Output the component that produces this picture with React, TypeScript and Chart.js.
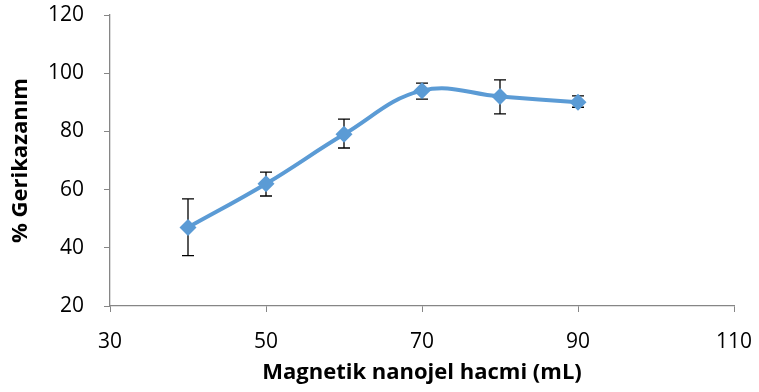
import { useEffect, useRef } from "react";
import { Chart, registerables } from "chart.js";

Chart.register(...registerables);

const volumes = [40, 50, 60, 70, 80, 90];
const recovery = [47, 62, 79, 94, 92, 90];
const errLow = [37.3, 57.8, 74.3, 91.1, 86, 88.3];
const errHigh = [56.8, 66, 84.2, 96.6, 97.7, 92.2];
const xTitle = "Magnetik nanojel hacmi (mL)";
const yTitle = "% Gerikazanım";

const FONT = "'Open Sans', 'DejaVu Sans', sans-serif";
const AXIS = "#868686";

const errorBars = {
  id: "errorBars",
  beforeDatasetsDraw(chart: any) {
    const { ctx, scales } = chart;
    const xs = scales.x;
    const ys = scales.y;
    ctx.save();
    ctx.strokeStyle = "#000";
    ctx.lineWidth = 1.3;
    volumes.forEach((v, i) => {
      const px = xs.getPixelForValue(v);
      const top = ys.getPixelForValue(errHigh[i]);
      const bot = ys.getPixelForValue(errLow[i]);
      ctx.beginPath();
      ctx.moveTo(px, top);
      ctx.lineTo(px, bot);
      ctx.moveTo(px - 6, top);
      ctx.lineTo(px + 6, top);
      ctx.moveTo(px - 6, bot);
      ctx.lineTo(px + 6, bot);
      ctx.stroke();
    });
    ctx.restore();
  },
};

const zeroPad = (s: any) => {
  s.paddingTop = 0;
  s.paddingBottom = 0;
  s.paddingLeft = 0;
  s.paddingRight = 0;
};

export default function App() {
  const ref = useRef<HTMLCanvasElement>(null);
  useEffect(() => {
    document.body.style.margin = "0";
    const chart = new Chart(ref.current as HTMLCanvasElement, {
      type: "line",
      data: {
        datasets: [
          {
            data: volumes.map((v, i) => ({ x: v, y: recovery[i] })),
            borderColor: "#5B9BD5",
            backgroundColor: "#5B9BD5",
            borderWidth: 4,
            tension: 0.4,
            pointStyle: "rectRot",
            pointRadius: 8.5,
            pointBorderWidth: 0,
            pointBackgroundColor: "#5B9BD5",
          },
        ],
      },
      options: {
        responsive: false,
        animation: false,
        layout: { padding: { top: 15, right: 25, left: 0, bottom: 0 } },
        plugins: { legend: { display: false }, tooltip: { enabled: false } },
        scales: {
          x: {
            type: "linear",
            min: 30,
            max: 110,
            afterFit: (s: any) => {
              s.height = 86;
              zeroPad(s);
            },
            ticks: {
              stepSize: 20,
              color: "#000",
              padding: 17,
              font: { family: FONT, size: 21 },
            },
            grid: { drawOnChartArea: false, tickLength: 6, color: AXIS },
            border: { color: AXIS, width: 1.3 },
            title: {
              display: true,
              text: xTitle,
              color: "#000",
              font: { family: FONT, size: 22, weight: "bold" },
              padding: { top: 0, bottom: 6 },
            },
          },
          y: {
            min: 20,
            max: 120,
            afterFit: (s: any) => {
              s.width = 110;
              zeroPad(s);
            },
            ticks: {
              stepSize: 20,
              color: "#000",
              padding: 20,
              font: { family: FONT, size: 21 },
            },
            grid: { drawOnChartArea: false, tickLength: 6, color: AXIS },
            border: { color: AXIS, width: 1.3 },
            title: {
              display: true,
              text: yTitle,
              color: "#000",
              font: { family: FONT, size: 22, weight: "bold" },
              padding: { top: 8, bottom: 0 },
            },
          },
        },
      },
      plugins: [errorBars],
    } as any);
    return () => chart.destroy();
  }, []);
  return <canvas ref={ref} width={759} height={392} />;
}
